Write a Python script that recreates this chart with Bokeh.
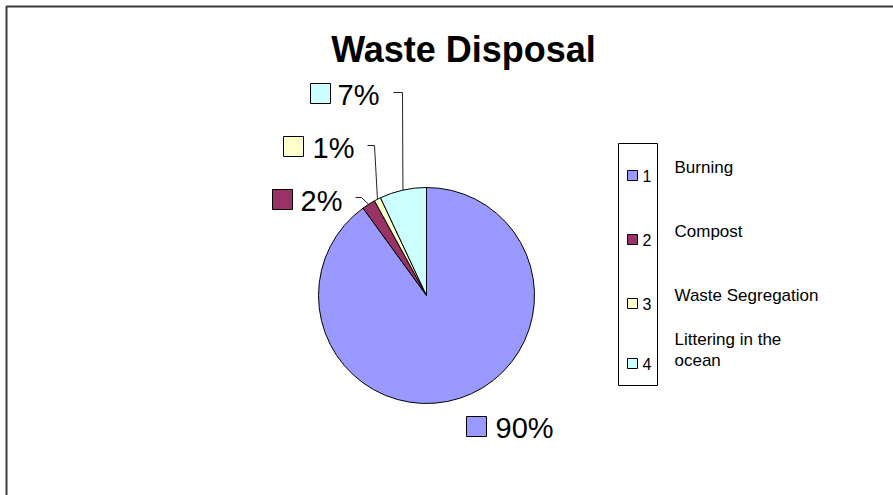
import math

from bokeh.core.properties import value
from bokeh.embed import file_html
from bokeh.models import ColumnDataSource, Range1d
from bokeh.plotting import figure
from bokeh.resources import INLINE

# ---- data -------------------------------------------------------------
categories = ["Burning", "Compost", "Waste Segregation", "Littering in the\nocean"]
shares = [90, 2, 1, 7]
legend_keys = ["1", "2", "3", "4"]
colors = ["#9999FF", "#993366", "#FFFFCC", "#CCFFFF"]
title_text = "Waste Disposal"

# ---- layout (pixel space, y measured from the top) ----------------------
W, H = 893, 495
FONT = value("Liberation Sans")


def sy(y):
    """Convert a top-down pixel row into the plot's bottom-up y."""
    return H - y


p = figure(width=W, height=H, output_backend="svg", toolbar_location=None,
           x_range=Range1d(0, W), y_range=Range1d(0, H),
           x_axis_location=None, y_axis_location=None,
           min_border=0, outline_line_color=None, tools="")
p.grid.visible = False
p.background_fill_color = "white"
p.border_fill_color = "white"

# outer frame (top and left edges)
p.line([6, 6, W], [sy(H), sy(6), sy(6)], line_color="#3a3a3a", line_width=2)

# ---- pie ----------------------------------------------------------------
cx, cy, r = 426, 295, 108
total = float(sum(shares))
starts, ends, mids = [], [], []
acc = 0.0
for v in shares:
    a0 = math.pi / 2 - 2 * math.pi * acc / total
    acc += v
    a1 = math.pi / 2 - 2 * math.pi * acc / total
    starts.append(a0)
    ends.append(a1)
    mids.append((a0 + a1) / 2)

src = ColumnDataSource(dict(start=starts, end=ends, color=colors))
p.wedge(x=cx, y=sy(cy), radius=r, start_angle="start", end_angle="end",
        direction="clock", fill_color="color", line_color="black",
        line_width=1, source=src)

# ---- data labels ----------------------------------------------------------
# (swatch centre x, row centre y, text x, elbow start x, elbow end x, elbow y)
label_pos = [
    (476, 426, 495, None, None, None),
    (282, 199, 300, 355, 361, 197),
    (293, 146, 312, 367, 374, 145),
    (320, 93, 337, 393, 402, 92),
]

for i, (v, col, pos) in enumerate(zip(shares, colors, label_pos)):
    sx, row, tx, e0, e1, ly = pos
    p.rect(x=sx, y=sy(row), width=20, height=20, fill_color=col,
           line_color="black", line_width=1)
    p.text(x=[tx], y=[sy(row + 1)], text=[f"{v}%"], text_font=FONT,
           text_font_size="29px", text_color="black",
           text_baseline="middle", text_align="left")
    if e0 is not None:
        ex = cx + r * math.cos(mids[i])
        ey = cy - r * math.sin(mids[i])
        p.line([e0, e1, ex], [sy(ly), sy(ly), sy(ey)],
               line_color="#222222", line_width=1)

# ---- title ----------------------------------------------------------------
p.text(x=[463], y=[sy(49)], text=[title_text], text_font=FONT,
       text_font_size="36px", text_font_style="bold", text_color="black",
       text_align="center", text_baseline="middle")

# ---- legend ---------------------------------------------------------------
p.rect(x=(618 + 657) / 2, y=sy((143 + 385) / 2), width=39, height=242,
       fill_color="white", line_color="black", line_width=1)

key_rows = [175, 239, 303, 363]
name_rows = [167, 231, 295, 339]
for key, name, col, kr, nr in zip(legend_keys, categories, colors,
                                  key_rows, name_rows):
    p.rect(x=632, y=sy(kr), width=10, height=10, fill_color=col,
           line_color="black", line_width=1)
    p.text(x=[642], y=[sy(kr)], text=[key], text_font=FONT,
           text_font_size="16px", text_color="black",
           text_baseline="middle", text_align="left")
    for j, part in enumerate(name.split("\n")):
        p.text(x=[674], y=[sy(nr + 21 * j)], text=[part], text_font=FONT,
               text_font_size="17px", text_color="black",
               text_baseline="middle", text_align="left")

open("out.html", "w").write(file_html(p, INLINE))
